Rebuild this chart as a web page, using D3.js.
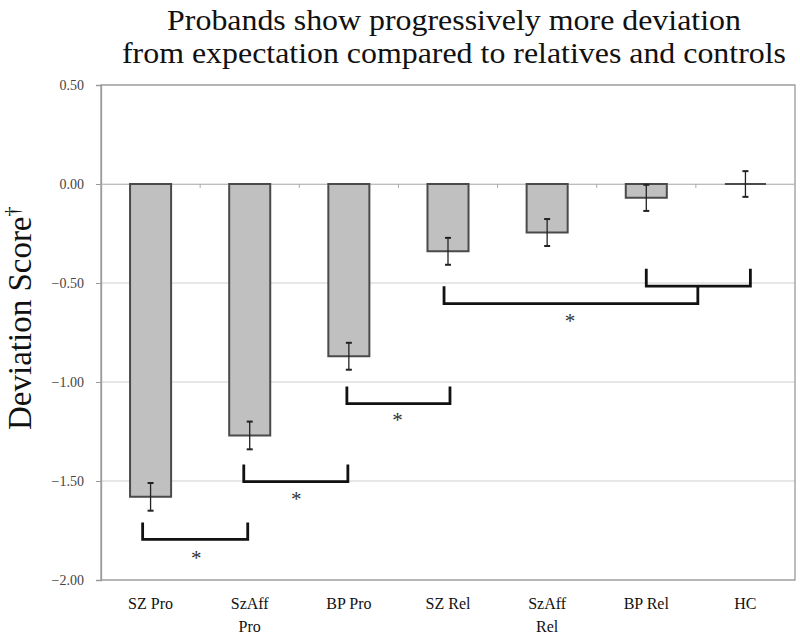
<!DOCTYPE html>
<html><head><meta charset="utf-8">
<script src="https://cdn.jsdelivr.net/npm/d3@7"></script>
<style>body{margin:0;background:#fff}svg{display:block}</style>
</head><body>
<svg id="c" width="800" height="634"></svg>
<script>
const categories = ["SZ Pro","SzAff Pro","BP Pro","SZ Rel","SzAff Rel","BP Rel","HC"];
const categoryLines = [["SZ Pro"],["SzAff","Pro"],["BP Pro"],["SZ Rel"],["SzAff","Rel"],["BP Rel"],["HC"]];
const values = [-1.58, -1.27, -0.87, -0.34, -0.245, -0.07, 0.0];
const errors = [0.07, 0.07, 0.068, 0.068, 0.068, 0.066, 0.065];
const yTicks = [0.5, 0, -0.5, -1, -1.5, -2];
// significance brackets: category-index span, upright top and bar level (data units)
const bracketFrom = [-0.08, 0.94, 1.98, 2.96, 5.0];
const bracketTo   = [0.98, 1.99, 3.02, 5.52, 6.05];
const bracketTop  = [-1.71, -1.417, -1.023, -0.516, -0.428];
const bracketBase = [-1.795, -1.503, -1.109, -0.604, -0.516];
const starPos = [0.46, 1.47, 2.49, 4.23];
const starY = [-1.88, -1.58, -1.18, -0.68];
const titleLines = ["Probands show progressively more deviation","from expectation compared to relatives and controls"];
const yTitle = "Deviation Score";
const yTitleMark = "\u2020";

const svg = d3.select("#c");
const L = 101, R = 795, T = 85, B = 580;
const y = d3.scaleLinear().domain([-2, 0.5]).range([B, T]);
const x = d3.scaleBand().domain(categories).range([L, R]).paddingInner(0.586).paddingOuter(0.293);
const xi = d3.scaleLinear().domain([-0.5, 6.5]).range([L, R]);
const serif = "'Liberation Serif','Times New Roman',serif";

// gridlines
svg.append("g").selectAll("line").data(yTicks).join("line")
  .attr("x1", L).attr("x2", R).attr("y1", d => y(d)).attr("y2", d => y(d))
  .attr("stroke", "#cfcfcf").attr("stroke-width", 1.2);

// frame
svg.append("rect").attr("x", L).attr("y", T).attr("width", R - L).attr("height", B - T)
  .attr("fill", "none").attr("stroke", "#9a9a9a").attr("stroke-width", 1.3);

// y axis
const yAxis = d3.axisLeft(y).tickValues(yTicks).tickFormat(d3.format(".2f")).tickSize(5).tickPadding(12);
const ga = svg.append("g").attr("transform", `translate(${L},0)`).call(yAxis);
ga.select(".domain").attr("stroke", "#9a9a9a").attr("stroke-width", 1.3);
ga.selectAll(".tick line").attr("stroke", "#9a9a9a");
ga.selectAll(".tick text").attr("font-family", serif).attr("font-size", 14).attr("fill", "#444");

// category axis at zero
const xAxis = d3.axisBottom(x).tickSize(0).tickFormat("");
const gx = svg.append("g").attr("transform", `translate(0,${y(0)})`).call(xAxis);
gx.select(".domain").attr("stroke", "#bdbdbd").attr("stroke-width", 1.2);
svg.append("g").selectAll("line").data(d3.range(1, categories.length)).join("line")
  .attr("x1", d => xi(d - 0.5)).attr("x2", d => xi(d - 0.5))
  .attr("y1", y(0)).attr("y2", y(0) + 4).attr("stroke", "#aaa").attr("stroke-width", 1);

// bars (paths so that a zero-height bar still shows its outline)
svg.append("g").selectAll("path").data(values).join("path")
  .attr("d", (d, i) => {
    const x0 = x(categories[i]), x1 = x0 + x.bandwidth();
    return `M${x0},${y(0)}V${y(d)}H${x1}V${y(0)}Z`;
  })
  .attr("fill", "#c0c0c0").attr("stroke", "#4a4a4a").attr("stroke-width", 2);

// error bars
const eg = svg.append("g").attr("stroke", "#222").attr("stroke-width", 1.3);
values.forEach((v, i) => {
  const cx = x(categories[i]) + x.bandwidth() / 2;
  eg.append("line").attr("x1", cx).attr("x2", cx).attr("y1", y(v + errors[i])).attr("y2", y(v - errors[i]));
  [v + errors[i], v - errors[i]].forEach(e =>
    eg.append("line").attr("x1", cx - 3).attr("x2", cx + 3).attr("y1", y(e)).attr("y2", y(e)).attr("stroke-width", 2));
});

// brackets
svg.append("g").selectAll("path").data(bracketFrom).join("path")
  .attr("d", (d, i) => `M${xi(d)},${y(bracketTop[i])}V${y(bracketBase[i])}H${xi(bracketTo[i])}V${y(bracketTop[i])}`)
  .attr("fill", "none").attr("stroke", "#111").attr("stroke-width", 2.8);

// stars
svg.append("g").selectAll("text").data(starPos).join("text")
  .attr("x", d => xi(d)).attr("y", (d, i) => y(starY[i]) + 9)
  .attr("text-anchor", "middle").attr("font-family", serif).attr("font-size", 21).attr("fill", "#333")
  .text("*");

// category labels
const cl = svg.append("g").selectAll("text").data(categoryLines).join("text")
  .attr("text-anchor", "middle").attr("font-family", serif).attr("font-size", 16).attr("fill", "#111")
  .attr("transform", (d, i) => `translate(${x(categories[i]) + x.bandwidth() / 2},609)`);
cl.selectAll("tspan").data(d => d).join("tspan").attr("x", 0).attr("dy", (d, j) => j ? 23 : 0).text(d => d);

// title (slightly widened, as in the reference)
svg.append("g").selectAll("text").data(titleLines).join("text")
  .attr("transform", (d, i) => `translate(454,${30 + i * 33}) scale(1.1,1)`)
  .attr("text-anchor", "middle").attr("font-family", serif).attr("font-size", 29).attr("fill", "#111")
  .text(d => d);

// y title
const yt = svg.append("text").attr("transform", "translate(31,430) rotate(-90)")
  .attr("text-anchor", "start").attr("font-family", serif).attr("font-size", 33).attr("fill", "#111");
yt.append("tspan").text(yTitle);
yt.append("tspan").attr("font-size", 20).attr("dy", -12).text(yTitleMark);
</script>
</body></html>
